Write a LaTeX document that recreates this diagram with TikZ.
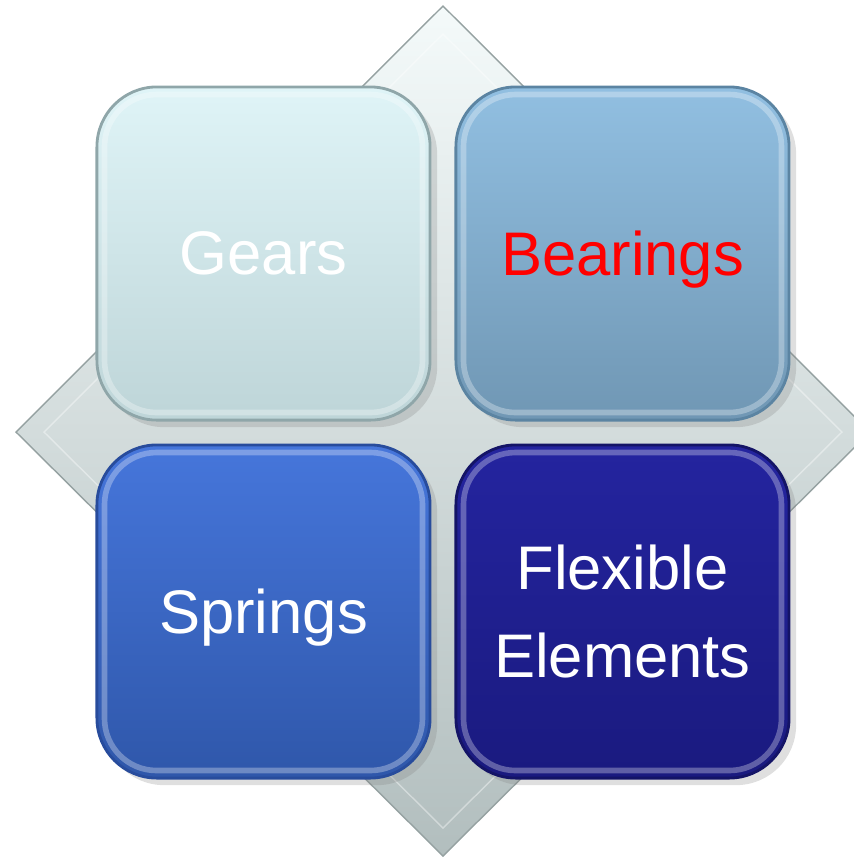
\documentclass[tikz,border=0pt]{standalone}
\usepackage{fontspec}
\setmainfont{Liberation Sans}
\usetikzlibrary{shadows}
\definecolor{platetop}{HTML}{F4FAFA}
\definecolor{platemid}{HTML}{DCE3E3}
\definecolor{platebot}{HTML}{B2BEBE}
\definecolor{plateedge}{HTML}{95A1A1}
\definecolor{gearstop}{HTML}{DFF4F7}
\definecolor{gearsbot}{HTML}{BED5D8}
\definecolor{gearsedge}{HTML}{8FA6A9}
\definecolor{bearingstop}{HTML}{91BFE1}
\definecolor{bearingsbot}{HTML}{7097B4}
\definecolor{bearingsedge}{HTML}{5B84A2}
\definecolor{springstop}{HTML}{4676DB}
\definecolor{springsbot}{HTML}{2F57AA}
\definecolor{springsedge}{HTML}{284C9C}
\definecolor{flextop}{HTML}{24249F}
\definecolor{flexbot}{HTML}{1A1A7F}
\definecolor{flexedge}{HTML}{141466}
\begin{document}
\begin{tikzpicture}[x=0.01cm, y=-0.01cm, every node/.style={font=\fontsize{17.5}{25}\selectfont}]
  \tikzstyle{tile}=[draw, rounded corners=0.6cm, minimum width=3.33cm, minimum height=3.33cm, inner sep=0pt, align=center, text depth=0pt, line width=0.8pt, drop shadow={shadow xshift=2pt, shadow yshift=-2pt, opacity=0.25}]
  \tikzstyle{rim}=[white, line width=1.6pt, opacity=0.3, rounded corners=0.52cm]
  \useasboundingbox (0,0) rectangle (854,859);
  \clip (0,0) rectangle (854,859);
  % bevelled plate behind the tiles
  \draw[draw=plateedge, top color=platetop, middle color=platemid, bottom color=platebot] (443,6) -- (870,432) -- (443,856) -- (16,432) -- cycle;
  \draw[white, opacity=0.4] (443,34) -- (842,432) -- (443,828) -- (44,432) -- cycle;
  \node[tile, draw=gearsedge, top color=gearstop, bottom color=gearsbot, text=white] (gears) at (263.5,253.5) {Gears};
  \node[tile, draw=bearingsedge, top color=bearingstop, bottom color=bearingsbot, text=red] (bearings) at (622.5,253.5) {Bearings};
  \node[tile, draw=springsedge, top color=springstop, bottom color=springsbot, text=white] (springs) at (263.5,611.5) {Springs};
  \node[tile, draw=flexedge, top color=flextop, bottom color=flexbot, text=white] (flexible) at (622.5,611.5) {Flexible\\Elements};
  \foreach \n in {gears, bearings, springs, flexible}
    \draw[rim] ([shift={(9,9)}]\n.north west) rectangle ([shift={(-9,-9)}]\n.south east);
\end{tikzpicture}
\end{document}
